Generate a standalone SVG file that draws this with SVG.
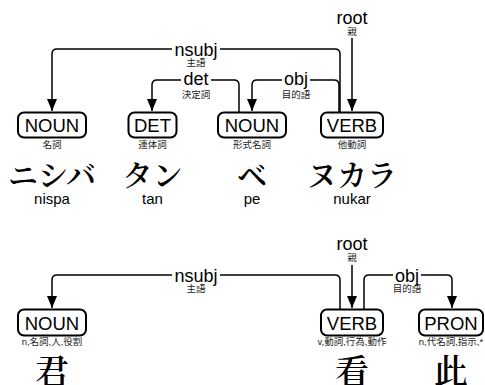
<svg xmlns="http://www.w3.org/2000/svg" width="485" height="385" viewBox="0 0 485 385">
  <style>
    .edge { fill: none; stroke: #000; stroke-width: 1.5; }
    .arrow { marker-end: url(#head); }
    .gap { fill: #fff; }
    .rel { font-family: "Liberation Sans", Arial, sans-serif; font-size: 18px; fill: #000; text-anchor: middle; }
    .relj { font-family: "Noto Sans CJK JP", sans-serif; font-size: 9.5px; fill: #222; text-anchor: middle; }
    .box { fill: #fff; stroke: #000; stroke-width: 2; }
    .pos { font-family: "Liberation Sans", Arial, sans-serif; font-size: 18.5px; fill: #000; text-anchor: middle; }
    .gloss { font-family: "Liberation Sans", "Noto Sans CJK JP", sans-serif; font-size: 9.5px; fill: #222; text-anchor: middle; }
    .word { font-family: "Noto Serif CJK JP", "Noto Sans CJK JP", serif; font-size: 30px; font-weight: 600; fill: #000; text-anchor: middle; }
    .word2 { font-family: "Noto Serif CJK TC", "Noto Sans CJK TC", serif; font-size: 34px; font-weight: 600; fill: #000; text-anchor: middle; }
    .rom { font-family: "Liberation Sans", Arial, sans-serif; font-size: 15px; fill: #000; text-anchor: middle; }
  </style>
  <defs>
    <marker id="head" viewBox="0 0 12 10" refX="12" refY="5" markerWidth="12" markerHeight="10" markerUnits="userSpaceOnUse" orient="auto">
      <path d="M0,0 L12,5 L0,10 z" fill="#000"/>
    </marker>
  </defs>

  <!-- sentence 1: connectors -->
  <g id="edges-1">
    <path class="edge arrow" d="M340,112 V54 Q340,49 335,49 H57 Q52,49 52,54 V111"/>
    <path class="edge arrow" d="M239,112 V85 Q239,80 234,80 H157 Q152,80 152,85 V111"/>
    <path class="edge arrow" d="M339,112 V85 Q339,80 334,80 H257 Q252,80 252,85 V111"/>
    <path class="edge arrow" d="M352,38 V111"/>
    <rect class="gap" x="172" y="40" width="48" height="17"/>
    <rect class="gap" x="181" y="71" width="30" height="17"/>
    <rect class="gap" x="282" y="71" width="28" height="17"/>
    <text class="rel" x="196" y="55.5">nsubj</text>
    <text class="relj" x="196" y="66">主語</text>
    <text class="rel" x="196" y="85">det</text>
    <text class="relj" x="196" y="98">決定詞</text>
    <text class="rel" x="296" y="85">obj</text>
    <text class="relj" x="296" y="98">目的語</text>
    <text class="rel" x="352" y="24">root</text>
    <text class="relj" x="352" y="35">親</text>
  </g>

  <!-- sentence 1: tokens -->
  <g id="tok-nispa">
    <rect class="box" x="18" y="112.5" width="68" height="25" rx="6"/>
    <text class="pos" x="52" y="132">NOUN</text>
    <text class="gloss" x="52" y="148">名詞</text>
    <text class="word" x="52" y="186">ニシバ</text>
    <text class="rom" x="52" y="204">nispa</text>
  </g>
  <g id="tok-tan">
    <rect class="box" x="128.5" y="112.5" width="48" height="25" rx="6"/>
    <text class="pos" x="152.5" y="132">DET</text>
    <text class="gloss" x="152.5" y="148">連体詞</text>
    <text class="word" x="152.5" y="186">タン</text>
    <text class="rom" x="152.5" y="204">tan</text>
  </g>
  <g id="tok-pe">
    <rect class="box" x="218" y="112.5" width="68" height="25" rx="6"/>
    <text class="pos" x="252" y="132">NOUN</text>
    <text class="gloss" x="252" y="148">形式名詞</text>
    <text class="word" x="252" y="186">ベ</text>
    <text class="rom" x="252" y="204">pe</text>
  </g>
  <g id="tok-nukar">
    <rect class="box" x="321" y="112.5" width="62" height="25" rx="6"/>
    <text class="pos" x="352" y="132">VERB</text>
    <text class="gloss" x="352" y="148">他動詞</text>
    <text class="word" x="352" y="186">ヌカラ</text>
    <text class="rom" x="352" y="204">nukar</text>
  </g>

  <!-- sentence 2: connectors -->
  <g id="edges-2">
    <path class="edge arrow" d="M340,309 V280 Q340,275 335,275 H57 Q52,275 52,280 V308"/>
    <path class="edge arrow" d="M364,309 V280 Q364,275 369,275 H447 Q452,275 452,280 V308"/>
    <path class="edge arrow" d="M352,265 V308"/>
    <rect class="gap" x="172" y="266" width="48" height="17"/>
    <rect class="gap" x="393" y="266" width="28" height="17"/>
    <text class="rel" x="196" y="281.5">nsubj</text>
    <text class="relj" x="196" y="292">主語</text>
    <text class="rel" x="407" y="281.5">obj</text>
    <text class="relj" x="407" y="292">目的語</text>
    <text class="rel" x="352" y="250">root</text>
    <text class="relj" x="352" y="261">親</text>
  </g>

  <!-- sentence 2: tokens -->
  <g id="tok-kimi">
    <rect class="box" x="18" y="309.5" width="68" height="26" rx="6"/>
    <text class="pos" x="52" y="329.5">NOUN</text>
    <text class="gloss" x="52" y="345">n,名詞,人,役割</text>
    <text class="word2" x="52" y="384">君</text>
  </g>
  <g id="tok-kan">
    <rect class="box" x="321" y="309.5" width="62" height="26" rx="6"/>
    <text class="pos" x="352" y="329.5">VERB</text>
    <text class="gloss" x="352" y="345">v,動詞,行為,動作</text>
    <text class="word2" x="352" y="384">看</text>
  </g>
  <g id="tok-ci">
    <rect class="box" x="419" y="309.5" width="64" height="26" rx="6"/>
    <text class="pos" x="451" y="329.5">PRON</text>
    <text class="gloss" x="451" y="345">n,代名詞,指示,*</text>
    <text class="word2" x="451" y="384">此</text>
  </g>
</svg>
